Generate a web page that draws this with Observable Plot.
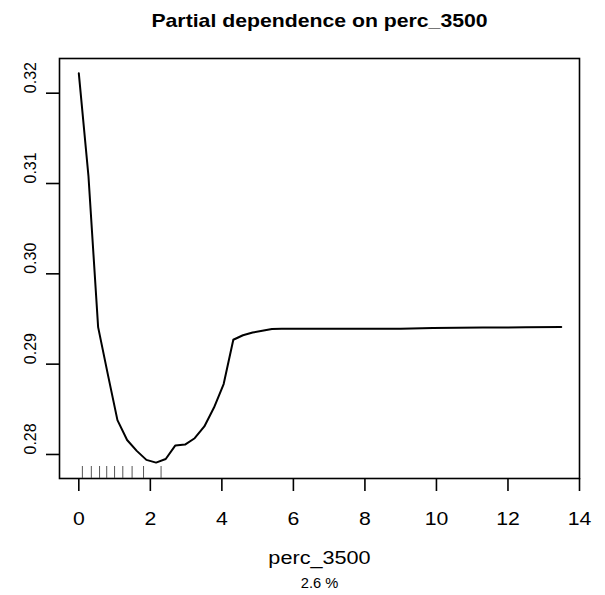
<!DOCTYPE html>
<html><head><meta charset="utf-8">
<script src="https://cdn.jsdelivr.net/npm/d3@7"></script>
<script src="https://cdn.jsdelivr.net/npm/@observablehq/plot@0.6"></script>
<style>
html,body{margin:0;padding:0;background:#fff;}
#chart svg{display:block;}
</style>
</head><body><div id="chart"></div>
<script>
// partial dependence curve
const pdX = [0, 0.27, 0.54, 0.81, 1.08, 1.35, 1.62, 1.89, 2.16, 2.43, 2.70, 2.97, 3.24, 3.51, 3.78, 4.05, 4.32, 4.59, 4.86, 5.13, 5.40, 5.67, 7.0, 9.0, 9.9, 11.3, 12.5, 13.49];
const pdY = [0.3222, 0.3108, 0.2941, 0.2889, 0.2838, 0.2816, 0.2804, 0.2794, 0.2791, 0.2795, 0.2810, 0.2811, 0.2818, 0.2831, 0.2852, 0.2878, 0.2927, 0.2932, 0.2935, 0.2937, 0.2939, 0.29391, 0.29391, 0.29392, 0.29400, 0.29405, 0.29408, 0.29410];
// rug (deciles of perc_3500)
const rugX = [0.10, 0.35, 0.58, 0.78, 1.00, 1.23, 1.49, 1.81, 2.30];
const xTicks = [0, 2, 4, 6, 8, 10, 12, 14];
const yTicks = [0.28, 0.29, 0.30, 0.31, 0.32];
const yTickLabels = ["0.28", "0.29", "0.30", "0.31", "0.32"];
const title = "Partial dependence on perc_3500";
const xLabel = "perc_3500";
const caption = "2.6 %";

const data = pdX.map((x, i) => ({x, y: pdY[i]}));
const yLab = yTicks.map((v, i) => ({v, t: yTickLabels[i]}));
const font = "'Liberation Sans', Arial, Helvetica, sans-serif";

const plot = Plot.plot({
  width: 605, height: 595,
  marginLeft: 59, marginRight: 26, marginTop: 58, marginBottom: 117,
  style: {fontFamily: font, background: "#fff", color: "#000", overflow: "visible"},
  x: {domain: [-0.54, 14.0], axis: null},
  y: {domain: [0.27734, 0.32384], axis: null},
  marks: [
    Plot.frame({stroke: "#000", strokeWidth: 1.6}),
    Plot.tickX(xTicks, {x: d => d, insetTop: 407, dy: 13, stroke: "#000", strokeWidth: 1.6}),
    Plot.tickY(yTicks, {y: d => d, insetRight: 507, dx: -13, stroke: "#000", strokeWidth: 1.6}),
    Plot.text(xTicks, {x: d => d, text: d => String(d), frameAnchor: "bottom", dy: 46, lineAnchor: "bottom", fontSize: 18, fill: "#000"}),
    Plot.text(yLab, {y: "v", text: "t", frameAnchor: "left", dx: -24, rotate: -90, lineAnchor: "bottom", fontSize: 16, fill: "#000"}),
    Plot.tickX(rugX, {x: d => d, insetTop: 408, stroke: "#444", strokeWidth: 0.9}),
    Plot.line(data, {x: "x", y: "y", stroke: "#000", strokeWidth: 2}),
    Plot.text([title], {text: d => d, frameAnchor: "top", dy: -31.3, lineAnchor: "bottom", fontSize: 18, fontWeight: "bold", fill: "#000"}),
    Plot.text([xLabel], {text: d => d, frameAnchor: "bottom", dy: 85.3, lineAnchor: "bottom", fontSize: 19, fill: "#000"}),
    Plot.text([caption], {text: d => d, frameAnchor: "bottom", dy: 109.3, lineAnchor: "bottom", fontSize: 14, fill: "#000"})
  ]
});
document.getElementById("chart").appendChild(plot);

// horizontal glyph stretch to match the reference's wide rendering
const stretch = new Map([[title, 1.18], [xLabel, 1.14], [caption, 1.05]]);
xTicks.forEach(t => stretch.set(String(t), 1.18));
plot.querySelectorAll("text").forEach(t => {
  const s = stretch.get(t.textContent);
  if (!s) return;
  const tr = t.getAttribute("transform");
  if (tr && tr.includes("translate")) {
    t.setAttribute("transform", tr + ` scale(${s},1)`);
  } else {
    const x = +(t.getAttribute("x") || 0);
    t.setAttribute("transform", `translate(${x},0) scale(${s},1) translate(${-x},0)` + (tr ? " " + tr : ""));
  }
});
</script>
</body></html>
